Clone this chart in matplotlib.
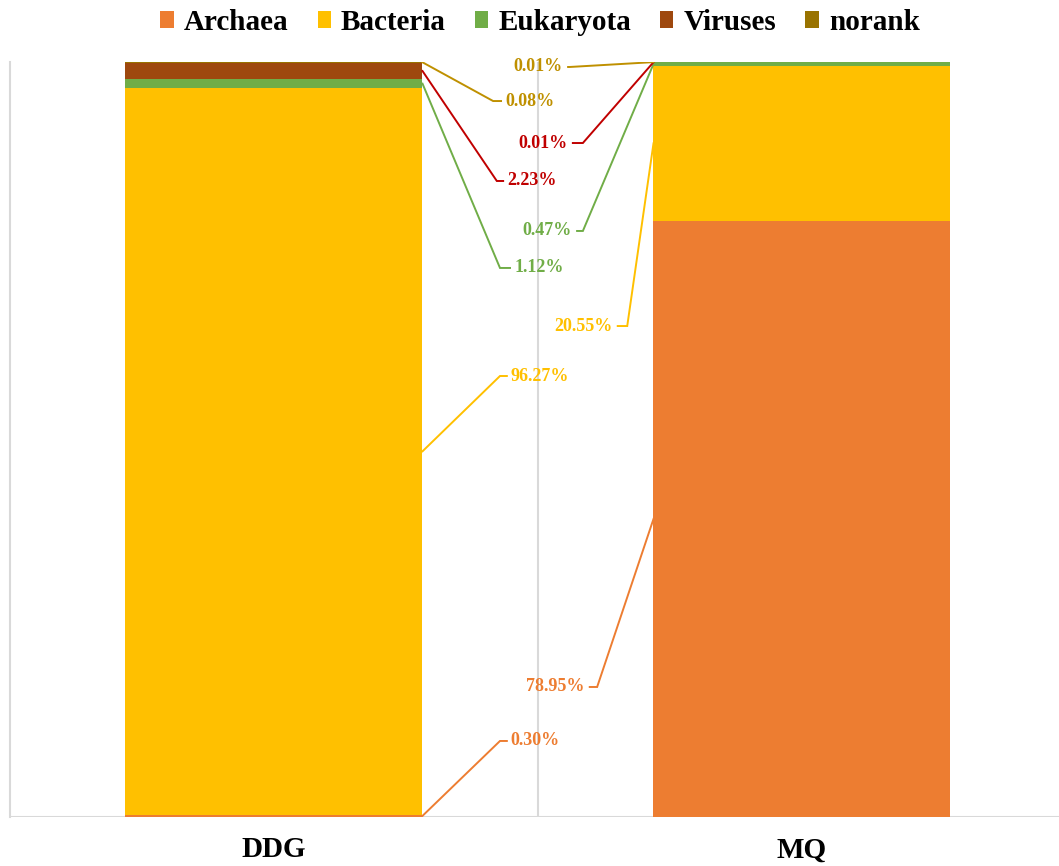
import matplotlib
matplotlib.use("Agg")
import matplotlib.pyplot as plt
from matplotlib.patches import Patch
import numpy as np

plt.rcParams['font.family'] = ['Liberation Serif', 'DejaVu Serif']
plt.rcParams['font.weight'] = 'bold'

# Relative abundance (%) of each domain in the two samples
samples = ["DDG", "MQ"]
domains = ["Archaea", "Bacteria", "Eukaryota", "Viruses", "norank"]
archaea = [0.30, 78.95]
bacteria = [96.27, 20.55]
eukaryota = [1.12, 0.47]
viruses = [2.23, 0.01]
norank = [0.08, 0.01]

fill_colors = ["#ED7D31", "#FFC000", "#70AD47", "#9E480E", "#997300"]
label_colors = ["#ED7D31", "#FFC000", "#70AD47", "#C00000", "#BF9000"]

# Callout layout: label height (axis %), elbow x and tail x (axis units)
ddg_label_y = [10.07, 58.41, 72.72, 84.24, 94.83]
ddg_elbow_x = [0.428, 0.428, 0.428, 0.422, 0.415]
ddg_tail_x = [0.441, 0.441, 0.447, 0.434, 0.430]
mq_label_y = [17.22, 65.03, 77.62, 89.27, 99.34]
mq_elbow_x = [0.612, 0.669, 0.585, 0.585, 0.560]
mq_tail_x = [0.598, 0.651, 0.574, 0.566, 0.557]

W, H = 1059, 866
fig = plt.figure(figsize=(W / 100, H / 100), dpi=100)
ax = fig.add_axes([10 / W, (H - 817) / H, 1056 / W, 755 / H])

series = [archaea, bacteria, eukaryota, viruses, norank]
x = np.arange(len(samples))
bar_w = 0.5625
bottom = np.zeros(len(samples))
mids = []
for vals, col in zip(series, fill_colors):
    vals = np.array(vals)
    ax.bar(x, vals, bar_w, bottom=bottom, color=col, zorder=3)
    mids.append(bottom + vals / 2)
    bottom = bottom + vals
mids = np.array(mids)

ax.set_xlim(-0.5, 1.5)
ax.set_ylim(0, 100)

# frame lines
grid_c = "#D9D9D9"
ax.plot([-0.5, -0.5], [0, 100], color=grid_c, lw=1.5, zorder=1, clip_on=False)
ax.plot([0.5, 0.5], [0, 100], color=grid_c, lw=1.5, zorder=1)
ax.axhline(0, color=grid_c, lw=1.5, zorder=2)
for s in ax.spines.values():
    s.set_visible(False)
ax.set_yticks([])
ax.set_xticks(x)
ax.set_xticklabels(samples, fontsize=21, fontweight='bold')
ax.tick_params(axis='x', length=0, pad=14)

# callouts
edge_l = x[0] + bar_w / 2
edge_r = x[1] - bar_w / 2
for i, vals in enumerate(series):
    c = label_colors[i]
    # DDG, labels to the right
    ly = ddg_label_y[i]
    ax.plot([edge_l, ddg_elbow_x[i], ddg_tail_x[i]], [mids[i][0], ly, ly],
            color=c, lw=1.4, zorder=4, solid_joinstyle='miter')
    ax.annotate(f"{vals[0]:.2f}%", (ddg_tail_x[i], ly), xytext=(4, 0),
                textcoords='offset pixels', ha='left', va='center',
                color=c, fontsize=13, fontweight='bold')
    # MQ, labels to the left
    ly = mq_label_y[i]
    ax.plot([edge_r, mq_elbow_x[i], mq_tail_x[i]], [mids[i][1], ly, ly],
            color=c, lw=1.4, zorder=4, solid_joinstyle='miter')
    ax.annotate(f"{vals[1]:.2f}%", (mq_tail_x[i], ly), xytext=(-5, 0),
                textcoords='offset pixels', ha='right', va='center',
                color=c, fontsize=13, fontweight='bold')

handles = [Patch(facecolor=c, edgecolor='none') for c in fill_colors]
fig.legend(handles, domains, loc='upper center', ncol=5,
           bbox_to_anchor=(0.51, 1.02), frameon=False,
           prop={'size': 21, 'weight': 'bold'},
           handlelength=0.45, handleheight=0.5, handletextpad=0.35,
           columnspacing=1.0)

fig.savefig("out.png", dpi=100)
